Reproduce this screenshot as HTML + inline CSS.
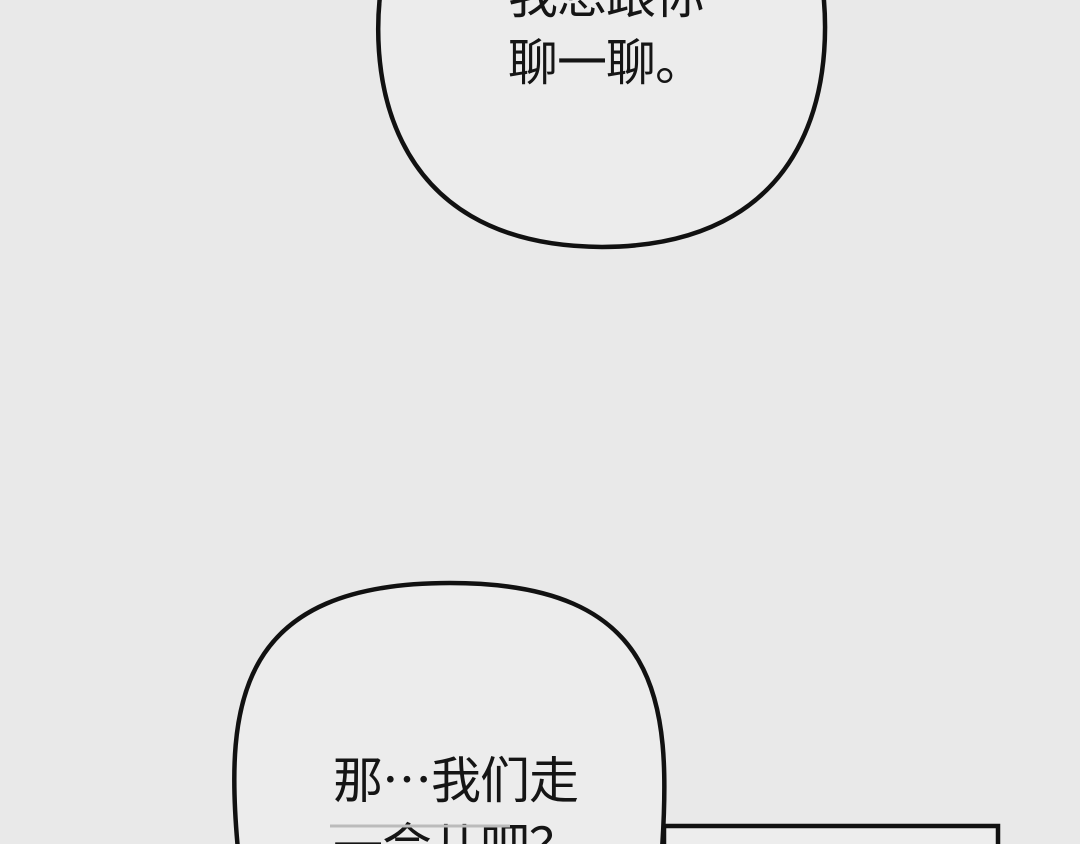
<!DOCTYPE html>
<html><head><meta charset="utf-8"><style>
html,body{margin:0;padding:0;background:#e9e9e9;}
svg{display:block}
text{font-family:"Noto Sans CJK SC","Liberation Sans",sans-serif;font-size:50px;fill:#151515;letter-spacing:-1px;}
</style></head><body>
<svg width="1080" height="844" viewBox="0 0 1080 844" xmlns="http://www.w3.org/2000/svg">
<rect width="1080" height="844" fill="#e9e9e9"/>
<path d="M384 -30 C366 60 378 246 602 247 C826 246 836 60 820 -30" fill="#ececec" stroke="#111" stroke-width="4.5"/>
<text x="508" y="13">我想跟你</text>
<text x="508" y="80">聊一聊。</text>
<rect x="664" y="826" width="334" height="30" fill="#ededed" stroke="#111" stroke-width="4.5"/>
<path d="M238 850 C224 700 240 583 450 583 C660 583 672 700 662 850" fill="#ececec" stroke="#111" stroke-width="4.5"/>
<text x="333" y="798">那…我们走</text>
<text x="333" y="864">一会儿吧？</text>
<line x1="330" y1="826" x2="510" y2="826" stroke="#bbb" stroke-width="3"/>
</svg>
</body></html>
